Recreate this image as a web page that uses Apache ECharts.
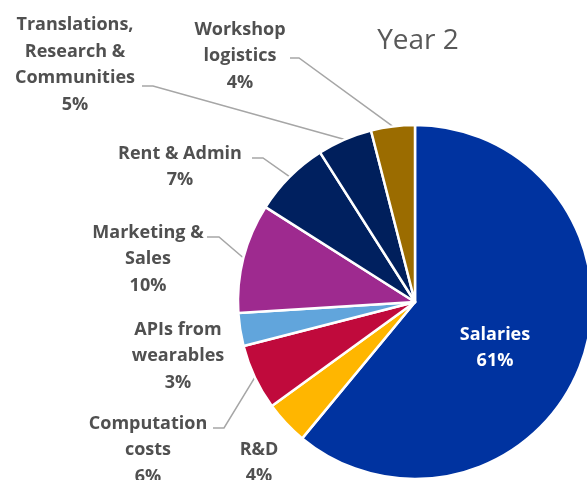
<!DOCTYPE html>
<html>
<head>
<meta charset="utf-8">
<style>
  html, body { margin: 0; padding: 0; background: #ffffff; }
  #chart { width: 587px; height: 480px; }
</style>
<script src="https://cdn.jsdelivr.net/npm/echarts@6/dist/echarts.min.js"></script>
</head>
<body>
<div id="chart"></div>
<script>
// Budget split, year 2 (percent of total), listed clockwise from 12 o'clock
const categories = [
  'Salaries',
  'R&D',
  'Computation\ncosts',
  'APIs from\nwearables',
  'Marketing &\nSales',
  'Rent & Admin',
  'Translations,\nResearch &\nCommunities',
  'Workshop\nlogistics'
];
const shares = [61, 4, 6, 3, 10, 7, 5, 4];
const sliceColors = ['#0033A0', '#FFB600', '#C00A3C', '#61A5DC', '#9E2A8F', '#00205F', '#001F5C', '#9B6C00'];

// Pie geometry
const CX = 415, CY = 302, R = 177;

// Label placement: centre of the text block, and the label-side end of its leader (elbow, tip)
const labelSpots = [
  { x: 495, y: 348, line: false },
  { x: 259, y: 463, line: false },
  { x: 148, y: 450, line: true, tip: [213, 428], elbow: [224, 428] },
  { x: 178, y: 356, line: false },
  { x: 148, y: 259, line: true, tip: [207, 237], elbow: [219, 237] },
  { x: 180, y: 167, line: true, tip: [252, 158], elbow: [263, 158] },
  { x: 75,  y: 65,  line: true, tip: [142, 86], elbow: [153, 86] },
  { x: 240, y: 56,  line: true, tip: [290, 58], elbow: [299, 58] }
];

const total = shares.reduce((a, b) => a + b, 0);
// point on the rim at the middle of slice i
function rimPoint(i) {
  let before = 0;
  for (let k = 0; k < i; k++) before += shares[k];
  const frac = (before + shares[i] / 2) / total;
  const ang = (90 - 360 * frac) * Math.PI / 180;
  return [CX + R * Math.cos(ang), CY - R * Math.sin(ang)];
}

const pieData = categories.map((name, i) => {
  const item = { name: name, value: shares[i], itemStyle: { color: sliceColors[i] } };
  if (!labelSpots[i].line) item.labelLine = { show: false };
  if (i === 0) item.label = { color: '#ffffff' };
  return item;
});

const chart = echarts.init(document.getElementById('chart'), null, { renderer: 'canvas' });
chart.setOption({
  animation: false,
  backgroundColor: '#ffffff',
  title: {
    text: 'Year 2',
    left: 413,
    top: 22,
    textAlign: 'center',
    textStyle: {
      fontFamily: 'Open Sans',
      fontWeight: 'normal',
      fontSize: 28,
      color: '#595959'
    }
  },
  series: [{
    type: 'pie',
    center: [CX, CY],
    radius: R,
    startAngle: 90,
    clockwise: true,
    avoidLabelOverlap: false,
    itemStyle: { borderColor: '#ffffff', borderWidth: 2.5 },
    label: {
      show: true,
      position: 'outside',
      formatter: '{b}\n{c}%',
      fontFamily: 'Open Sans',
      fontWeight: 'bold',
      fontSize: 18,
      lineHeight: 26.5,
      color: '#505050',
      align: 'center'
    },
    labelLine: {
      show: true,
      lineStyle: { color: '#a6a6a6', width: 1.5 }
    },
    labelLayout: function (params) {
      const s = labelSpots[params.dataIndex];
      const out = { x: s.x, y: s.y, align: 'center', verticalAlign: 'middle' };
      if (s.line) {
        out.labelLinePoints = [rimPoint(params.dataIndex), s.elbow, s.tip];
      }
      return out;
    },
    data: pieData
  }]
});
</script>
</body>
</html>
